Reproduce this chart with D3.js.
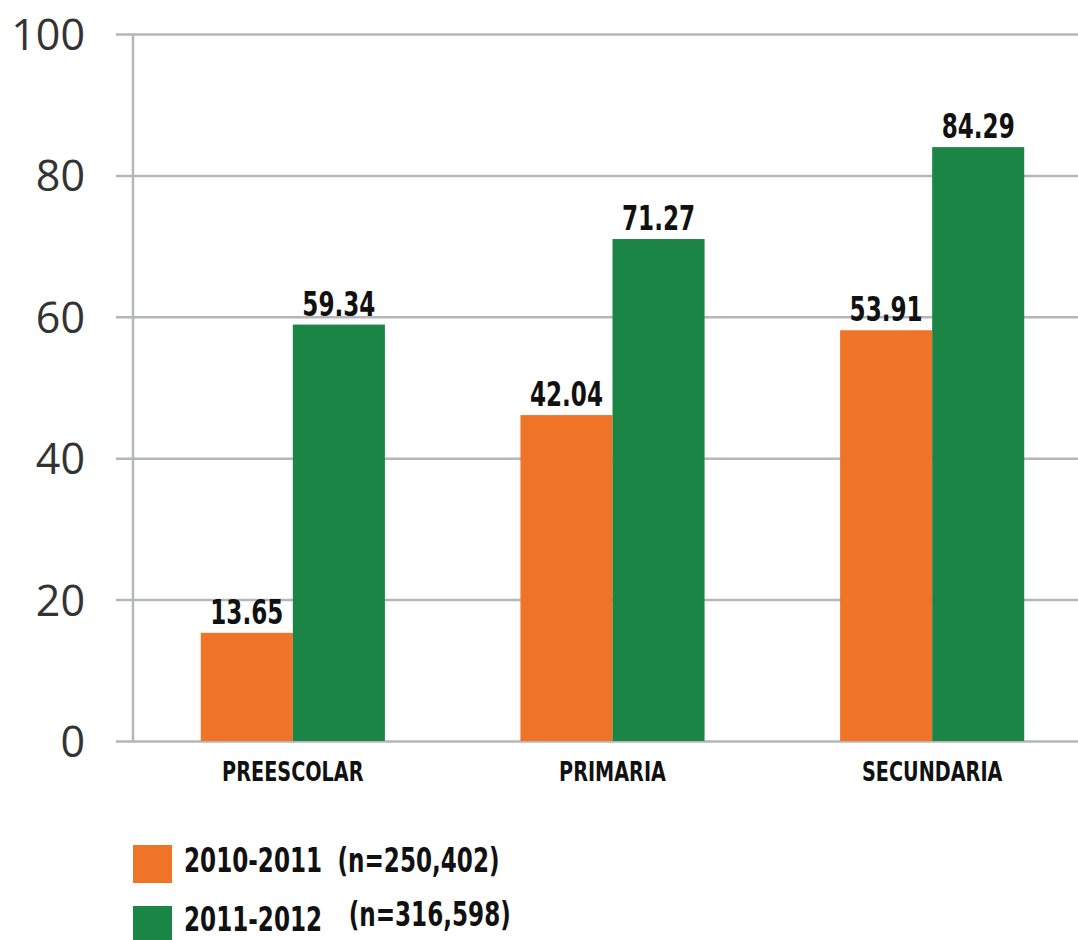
<!DOCTYPE html>
<html>
<head>
<meta charset="utf-8">
<script src="https://cdn.jsdelivr.net/npm/d3@7"></script>
<style>
  body { margin: 0; background: #fff; }
  svg { display: block; }
  .bold { font-family: "DejaVu Sans", sans-serif; font-weight: bold; fill: #111; }
</style>
</head>
<body>
<svg width="1078" height="940"></svg>
<script>
// data as shown in the picture
const categories = ['PREESCOLAR', 'PRIMARIA', 'SECUNDARIA'];
const series = ['2010-2011', '2011-2012'];
const seriesNotes = ['(n=250,402)', '(n=316,598)'];
// bar heights as drawn (the orange bars in the source sit a little above their labels)
const values2010 = [15.3, 46.1, 58.1];
const values2011 = [58.9, 71.0, 84.0];
const labels2010 = ['13.65', '42.04', '53.91'];
const labels2011 = ['59.34', '71.27', '84.29'];
const yTicks = [0, 20, 40, 60, 80, 100];
const colors = ['#f07428', '#1a8544'];

// no condensed bold font installed, so squeeze the bold text sideways
const NARROW = 0.68;

const svg = d3.select('svg');

const x = d3.scaleBand()
            .domain(categories)
            .range([133, 1092])
            .paddingInner(0.424)
            .paddingOuter(0.212);
const xs = d3.scaleBand()
             .domain(series)
             .range([0, x.bandwidth()]);
const y = d3.scaleLinear()
            .domain([0, 100])
            .range([741, 34]);

// gridlines + y labels
const y_ax = d3.axisLeft(y)
               .tickValues(yTicks)
               .tickSize(-(1078 - 133))
               .tickPadding(0);
const h_y_ax = svg.append('g')
                  .attr('transform', 'translate(133,0)')
                  .call(y_ax);
h_y_ax.select('.domain').remove();
h_y_ax.selectAll('.tick line')
      .attr('x1', -17)
      .attr('stroke', '#b4b6b8')
      .attr('stroke-width', 2.5);
h_y_ax.selectAll('.tick text')
      .attr('x', -48)
      .attr('dy', '0.36em')
      .attr('fill', '#333')
      .style('font-family', '"Open Sans", "Noto Sans", sans-serif')
      .style('font-size', '43px');

// vertical axis line
svg.append('line')
   .attr('x1', 133).attr('x2', 133)
   .attr('y1', y(100)).attr('y2', y(0))
   .attr('stroke', '#b4b6b8')
   .attr('stroke-width', 2.5);

const rows = categories.map((c, i) => ({
	cat: c,
	bars: [
		{ s: series[0], v: values2010[i], label: labels2010[i], color: colors[0] },
		{ s: series[1], v: values2011[i], label: labels2011[i], color: colors[1] }
	]
}));

const groups = svg.append('g')
	.selectAll('g')
	.data(rows)
	.join('g')
	.attr('transform', d => `translate(${x(d.cat)},0)`);

groups.selectAll('rect')
	.data(d => d.bars)
	.join('rect')
	.attr('x', d => xs(d.s))
	.attr('y', d => y(d.v))
	.attr('width', xs.bandwidth())
	.attr('height', d => y(0) - y(d.v))
	.attr('fill', d => d.color);

groups.selectAll('text.val')
	.data(d => d.bars)
	.join('text')
	.attr('class', 'val bold')
	.attr('transform', d => `translate(${xs(d.s) + xs.bandwidth() / 2},${y(d.v) - 9}) scale(${NARROW},1)`)
	.attr('text-anchor', 'middle')
	.style('font-size', '34px')
	.text(d => d.label);

// category labels
svg.append('g')
   .selectAll('text')
   .data(categories)
   .join('text')
   .attr('class', 'bold')
   .attr('transform', d => `translate(${x(d) + x.bandwidth() / 2},781) scale(0.74,1)`)
   .attr('text-anchor', 'middle')
   .style('font-size', '26px')
   .text(d => d);

// legend
const legend = svg.append('g')
	.selectAll('g')
	.data(series)
	.join('g')
	.attr('transform', (d, i) => `translate(133,${845 + i * 61})`);
legend.append('rect')
	.attr('width', 39)
	.attr('height', 38)
	.attr('fill', (d, i) => colors[i]);
const lt = legend.append('text')
	.attr('class', 'bold')
	.attr('transform', (d, i) => `translate(51,${27 - i * 2}) scale(0.7,1)`)
	.style('font-size', '33px');
lt.append('tspan').text(d => d);
lt.append('tspan')
  .attr('dx', (d, i) => i === 1 ? 38 : 22)
  .attr('dy', (d, i) => i === 1 ? -5 : 0)
  .text((d, i) => seriesNotes[i]);
</script>
</body>
</html>
